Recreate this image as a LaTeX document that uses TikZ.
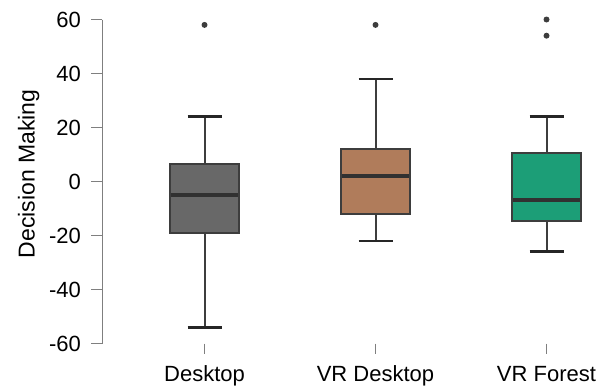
\documentclass[tikz,border=0pt]{standalone}
\usepackage{fontspec}
\setmainfont{Liberation Sans}
\definecolor{deskfill}{HTML}{686868}
\definecolor{vrdfill}{HTML}{B07C5B}
\definecolor{vrffill}{HTML}{1C9E77}
\definecolor{edgegray}{HTML}{3D3D3D}
\definecolor{axisgray}{HTML}{7F7F7F}
\tikzset{
  axisline/.style={draw=axisgray, line width=1pt},
  whisk/.style={draw=edgegray, line width=2pt},
  capline/.style={draw=black!85, line width=2.6pt},
  boxst/.style={draw=edgegray, line width=2pt},
  medline/.style={draw=edgegray!80!black, line width=4pt},
  flier/.style={fill=edgegray},
  ticklabel/.style={inner sep=0pt, font=\fontsize{22}{26}\selectfont},
  titlelabel/.style={inner sep=0pt, font=\fontsize{23}{27}\selectfont},
}
% y position of a value on the plot (pixel-like units, y grows downward)
\newcommand\valy[1]{{181.5-2.7*(#1)}}
% one box plot: name, centre x, low whisker, Q1, median, Q3, high whisker, fill
\newcommand\oneboxplot[8]{%
  \coordinate (#1-lo)  at (#2,\valy{#3});
  \coordinate (#1-q1)  at (#2,\valy{#4});
  \coordinate (#1-med) at (#2,\valy{#5});
  \coordinate (#1-q3)  at (#2,\valy{#6});
  \coordinate (#1-hi)  at (#2,\valy{#7});
  \draw[whisk] (#1-lo) -- (#1-q1);
  \draw[whisk] (#1-q3) -- (#1-hi);
  \draw[boxst, fill=#8] ([xshift=-34.5pt]#1-q1) rectangle ([xshift=34.5pt]#1-q3);
  \draw[medline] ([xshift=-33.5pt]#1-med) -- ([xshift=33.5pt]#1-med);
  \draw[capline] ([xshift=-17pt]#1-lo) -- ([xshift=17pt]#1-lo);
  \draw[capline] ([xshift=-17pt]#1-hi) -- ([xshift=17pt]#1-hi);
}
\begin{document}
\begin{tikzpicture}[x=1pt, y=-1pt]
  \useasboundingbox (0,0) rectangle (602,386);

  % y axis with ticks and labels
  \coordinate (ytop) at (102,\valy{60});
  \coordinate (ybot) at (102,\valy{-60});
  \draw[axisline] (ytop) -- (ybot);
  \foreach \v/\lab in {60/60, 40/40, 20/20, 0/0, -20/-20, -40/-40, -60/-60} {
    \coordinate (yt\v) at (102,\valy{\v});
    \draw[axisline] (yt\v) -- ++(-11,0);
    \node[ticklabel, anchor=east] (ylab\v) at (81,\valy{\v}) {\lab};
  }
  \node[titlelabel, rotate=90, anchor=base] (ytitle) at (34.5,174) {Decision Making};

  % box plots
  \oneboxplot{desk}{204.5}{-54}{-19}{-5}{6.5}{24}{deskfill}
  \oneboxplot{vrd}{375.5}{-22}{-12}{2}{12}{38}{vrdfill}
  \oneboxplot{vrf}{546.5}{-26}{-14.6}{-7}{10.4}{24}{vrffill}

  % outliers
  \coordinate (deskout) at (204.5,\valy{58});
  \coordinate (vrdout) at (375.5,\valy{58});
  \coordinate (vrfouta) at (546.5,\valy{60});
  \coordinate (vrfoutb) at (546.5,\valy{54});
  \foreach \p in {deskout, vrdout, vrfouta, vrfoutb}
    \fill[flier] (\p) circle (3pt);

  % category ticks and labels
  \foreach \n/\x/\lab in {desk/204.5/Desktop, vrd/375.5/VR Desktop, vrf/546.5/VR Forest} {
    \coordinate (xt\n) at (\x,343.5);
    \draw[axisline] (xt\n) -- ++(0,10.5);
    \node[ticklabel, anchor=base] (xlab\n) at (\x,381.5) {\lab};
  }
\end{tikzpicture}
\end{document}
